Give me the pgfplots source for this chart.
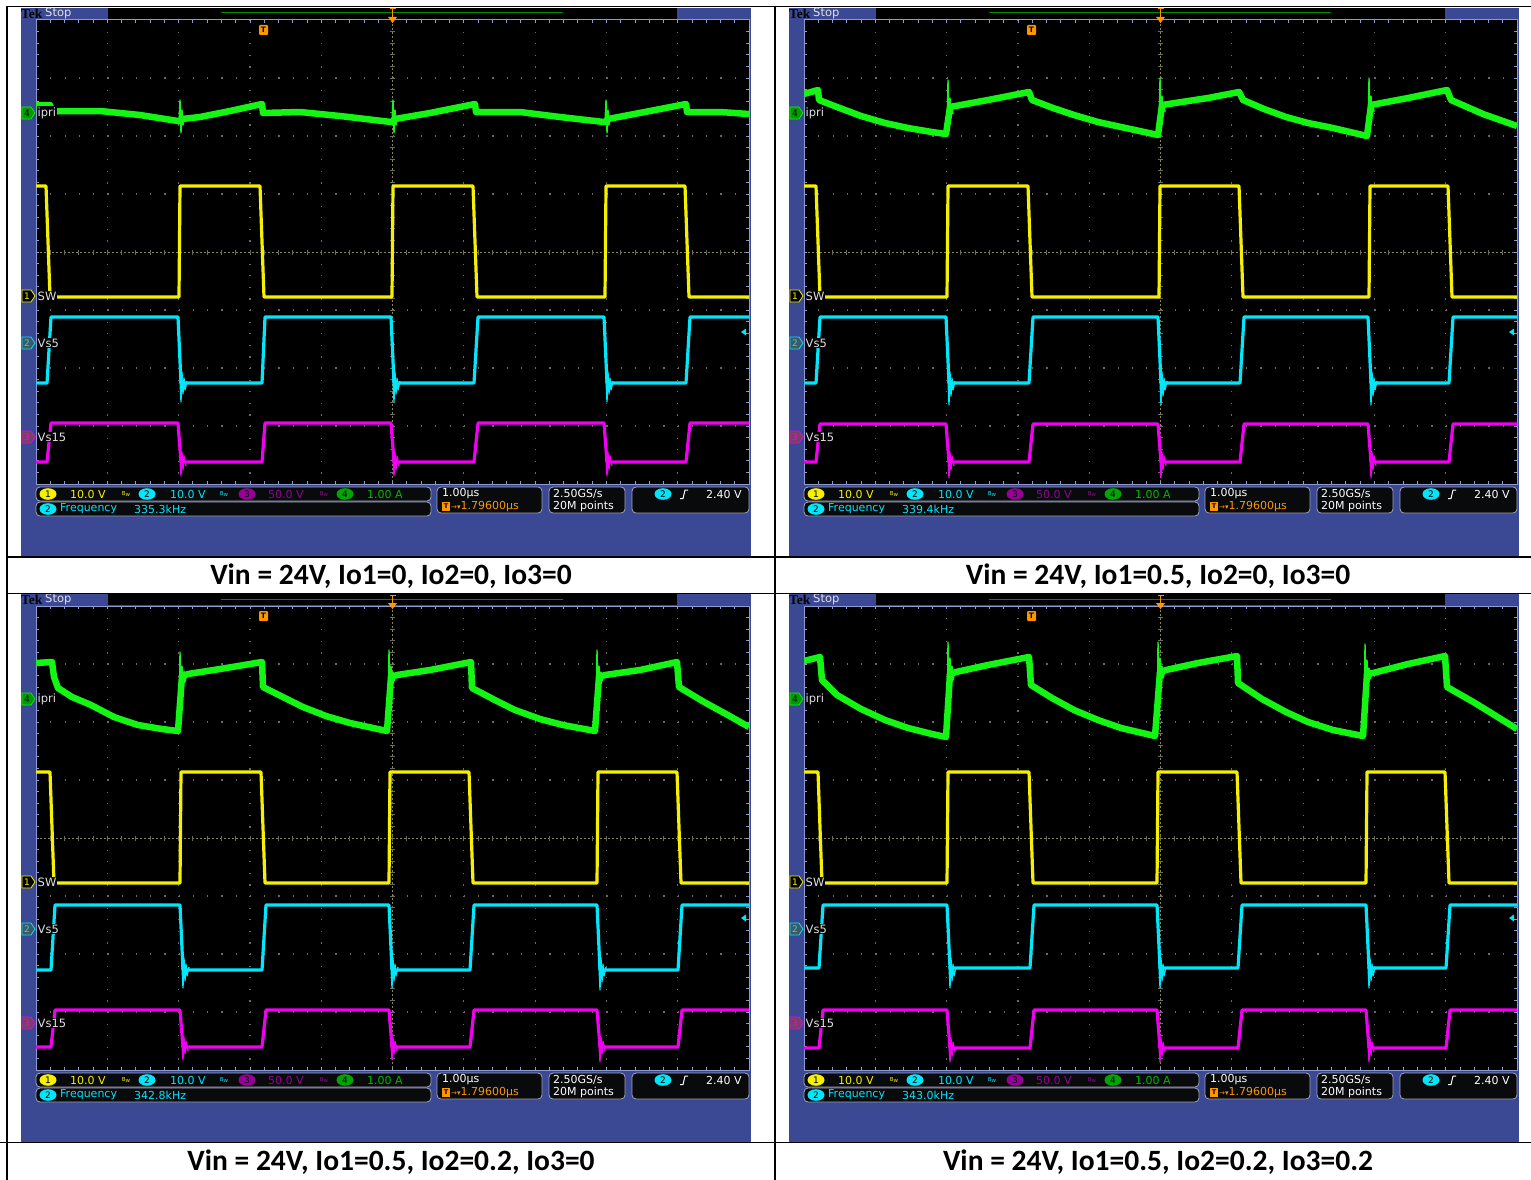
\documentclass[border=0pt]{standalone}
\usepackage{pgfplots}
\pgfplotsset{compat=1.18}
\usepackage{fontspec}
\setmainfont{Carlito}
\newfontfamily\scopefont{DejaVu Sans}
\newfontfamily\tekfont{Liberation Serif}
\definecolor{tekblue}{RGB}{59,73,148}
\definecolor{trgreen}{RGB}{20,245,20}
\definecolor{tryellow}{RGB}{245,240,0}
\definecolor{trcyan}{RGB}{0,230,250}
\definecolor{trmag}{RGB}{240,0,240}
\definecolor{tkorange}{RGB}{255,150,0}
\definecolor{gridc}{RGB}{105,105,105}
\definecolor{bordc}{RGB}{140,155,210}
\definecolor{boxfill}{RGB}{8,10,12}
\definecolor{boxdraw}{RGB}{160,165,190}
\definecolor{lblc}{RGB}{225,225,225}
\definecolor{magtxt}{RGB}{150,0,150}
\definecolor{grntxt}{RGB}{0,185,0}
\pgfplotsset{scopeax/.style={width=713pt,height=464pt,scale only axis,xmin=36,xmax=749,ymin=20,ymax=484,y dir=reverse,hide axis,clip=true,unbounded coords=jump,
  every axis plot/.append style={no markers, line join=round}},
  gr/.style={trgreen, line width=6.5pt},
  grs/.style={trgreen, line width=1.4pt},
  ye/.style={tryellow, line width=3.2pt},
  cy/.style={trcyan, line width=3.2pt},
  cys/.style={trcyan, line width=1.3pt},
  mg/.style={trmag, line width=3.2pt},
  mgs/.style={trmag, line width=1.3pt}}
\tikzset{sf/.style={font=\scopefont\fontsize{11}{12}\selectfont, inner sep=0pt, anchor=west}}
\newcommand{\scopebg}[3]{%
\begin{scope}[shift={(#1,-#2)}]
\fill[tekblue] (21,-8) rectangle (751,-556);
\fill[black] (108,-8) rectangle (677,-19);
\draw[green!55!black, line width=1pt] (221,-13) -- (563,-13);
\node[anchor=west, inner sep=0pt, font=\tekfont\bfseries\fontsize{13.5}{14}\selectfont, text=black] at (21,-14) {Tek};
\node[anchor=west, inner sep=0pt, font=\scopefont\fontsize{11.5}{12}\selectfont, text=lblc] at (45,-13.5) {Stop};
\fill[black] (36,-20) rectangle (749,-484);
\foreach \k in {1,2,3,4,6,7,8,9} \draw[gridc, line width=1.2pt, dash pattern=on 1.2pt off 10.4pt] ({36+71.3*\k},-20) -- ({36+71.3*\k},-484);
\foreach \k in {1,2,3,5,6,7} \draw[gridc, line width=1.2pt, dash pattern=on 1.2pt off 13.06pt] (36,{-20-58*\k}) -- (749,{-20-58*\k});
\draw[gridc!80!yellow, line width=0.8pt, dash pattern=on 2pt off 2pt] (392.5,-20) -- (392.5,-484);
\draw[gridc!80!yellow, line width=0.8pt, dash pattern=on 2pt off 2pt] (36,-252) -- (749,-252);
\foreach \j in {1,...,39} \draw[gridc, line width=0.8pt] (390,{-20-11.6*\j}) -- (395,{-20-11.6*\j});
\foreach \j in {1,...,49} \draw[gridc, line width=0.8pt] ({36+14.26*\j},-249.5) -- ({36+14.26*\j},-254.5);
\foreach \j in {1,...,49} {\draw[bordc, line width=0.8pt] ({36+14.26*\j},-20) -- ++(0,-3); \draw[bordc, line width=0.8pt] ({36+14.26*\j},-484) -- ++(0,3);}
\foreach \j in {1,...,39} {\draw[bordc, line width=0.8pt] (36,{-20-11.6*\j}) -- ++(3,0); \draw[bordc, line width=0.8pt] (749,{-20-11.6*\j}) -- ++(-3,0);}
\draw[bordc, line width=1pt] (36,-20) rectangle (749,-484);
% status bar
\draw[boxdraw, fill=boxfill, line width=0.8pt, rounded corners=4pt] (36,-487) rectangle (431,-501);
\draw[boxdraw, fill=boxfill, line width=0.8pt, rounded corners=4pt] (36,-502) rectangle (431,-516);
\draw[boxdraw, fill=boxfill, line width=0.8pt, rounded corners=4pt] (437,-487) rectangle (542,-513);
\draw[boxdraw, fill=boxfill, line width=0.8pt, rounded corners=4pt] (549,-487) rectangle (625,-513);
\draw[boxdraw, fill=boxfill, line width=0.8pt, rounded corners=4pt] (632,-487) rectangle (749,-513);
\fill[tryellow] (48,-494) ellipse (8.5 and 5.8); \node[font=\scopefont\fontsize{9}{9}\selectfont, inner sep=0pt] at (48,-494) {1};
\node[sf, text=tryellow] at (70,-494) {10.0 V};
\node[font=\scopefont\fontsize{5.5}{5}\selectfont, inner sep=0pt, text=tryellow] at (126,-494) {B\raisebox{-1pt}{w}};
\fill[trcyan] (147,-494) ellipse (8.5 and 5.8); \node[font=\scopefont\fontsize{9}{9}\selectfont, inner sep=0pt] at (147,-494) {2};
\node[sf, text=trcyan] at (170,-494) {10.0 V};
\node[font=\scopefont\fontsize{5.5}{5}\selectfont, inner sep=0pt, text=trcyan] at (224,-494) {B\raisebox{-1pt}{w}};
\fill[magtxt] (247,-494) ellipse (8.5 and 5.8); \node[font=\scopefont\fontsize{9}{9}\selectfont, inner sep=0pt] at (247,-494) {3};
\node[sf, text=magtxt] at (268,-494) {50.0 V};
\node[font=\scopefont\fontsize{5.5}{5}\selectfont, inner sep=0pt, text=magtxt] at (324,-494) {B\raisebox{-1pt}{w}};
\fill[green!65!black] (345,-494) ellipse (8.5 and 5.8); \node[font=\scopefont\fontsize{9}{9}\selectfont, inner sep=0pt] at (345,-494) {4};
\node[sf, text=grntxt] at (367,-494) {1.00 A};
\fill[trcyan] (48,-509) ellipse (8.5 and 5.8); \node[font=\scopefont\fontsize{9}{9}\selectfont, inner sep=0pt] at (48,-509) {2};
\node[sf, text=trcyan] at (60,-509) {Frequency};
\node[sf, text=trcyan] at (134,-509) {#3};
\node[sf, text=white] at (442,-493.5) {1.00µs};
\fill[tkorange] (442,-502) rectangle (450,-510.5);
\node[font=\scopefont\bfseries\fontsize{6.5}{6}\selectfont, inner sep=0pt] at (446,-506.3) {T};
\node[sf, text=tkorange] at (451,-506.5) {\fontsize{7}{7}\selectfont→▾\fontsize{11}{12}\selectfont1.79600µs};
\node[sf, text=white] at (553,-493.5) {2.50GS/s};
\node[sf, text=white] at (553,-506.5) {20M points};
\fill[trcyan] (663,-494) ellipse (8.5 and 5.8); \node[font=\scopefont\fontsize{9}{9}\selectfont, inner sep=0pt] at (663,-494) {2};
\draw[white, line width=1pt] (680,-498.5) -- (683,-498.5) .. controls (684,-494) .. (685,-490) -- (688,-490);
\node[sf, text=white] at (706,-494) {2.40 V};
\end{scope}}
\newcommand{\scopefg}[2]{%
\begin{scope}[shift={(#1,-#2)}]
\filldraw[fill=green!60!black, draw=trgreen, line width=0.6pt] (22,-107) -- (31,-107) -- (35,-113) -- (31,-119) -- (22,-119) -- cycle;
\node[font=\scopefont\fontsize{9}{9}\selectfont, text=black, inner sep=0pt] at (27,-113) {4};
\node[anchor=west, fill=black, inner sep=1pt, text=lblc, font=\scopefont\fontsize{11.5}{12}\selectfont] at (36.5,-113) {ipri};
\filldraw[fill=black, draw=tryellow, line width=0.8pt] (22,-290) -- (31,-290) -- (35,-296) -- (31,-302) -- (22,-302) -- cycle;
\node[font=\scopefont\fontsize{9}{9}\selectfont, text=tryellow, inner sep=0pt] at (27,-296) {1};
\node[anchor=west, fill=black, inner sep=1pt, text=lblc, font=\scopefont\fontsize{11.5}{12}\selectfont] at (36.5,-296) {SW};
\filldraw[fill=cyan!30!black, draw=trcyan, line width=0.8pt] (22,-337) -- (31,-337) -- (35,-343) -- (31,-349) -- (22,-349) -- cycle;
\node[font=\scopefont\fontsize{9}{9}\selectfont, text=trcyan, inner sep=0pt] at (27,-343) {2};
\node[anchor=west, fill=black, inner sep=1pt, text=lblc, font=\scopefont\fontsize{11.5}{12}\selectfont] at (36.5,-343) {Vs5};
\filldraw[fill=magenta!35!black, draw=trmag, line width=0.8pt] (22,-431) -- (31,-431) -- (35,-437) -- (31,-443) -- (22,-443) -- cycle;
\node[font=\scopefont\fontsize{9}{9}\selectfont, text=trmag, inner sep=0pt] at (27,-437) {3};
\node[anchor=west, fill=black, inner sep=1pt, text=lblc, font=\scopefont\fontsize{11.5}{12}\selectfont] at (36.5,-437) {Vs15};
\fill[trcyan] (741,-332) -- (746,-328.5) -- (746,-335.5) -- cycle;
\fill[tkorange, rounded corners=1pt] (259,-25) rectangle (268,-35);
\node[font=\scopefont\bfseries\fontsize{7.5}{7}\selectfont, inner sep=0pt] at (263.5,-30) {T};
\draw[tkorange, line width=1.5pt] (392.5,-9) -- (392.5,-18);
\draw[tkorange, line width=1pt] (389.5,-9) -- (395.5,-9);
\fill[tkorange] (388,-17) -- (397,-17) -- (392.5,-23) -- cycle;
\end{scope}}
\begin{document}
\begin{tikzpicture}[x=1pt,y=1pt]
\path[use as bounding box] (0,0) rectangle (1531,-1180);
\fill[white] (0,0) rectangle (1531,-1180);
\scopebg{0}{0}{335.3kHz}
\scopebg{768}{0}{339.4kHz}
\scopebg{0}{586}{342.8kHz}
\scopebg{768}{586}{343.0kHz}
% ---------------- top-left
\begin{axis}[scopeax, at={(392.5pt,-252pt)}, anchor=center]
\addplot[gr] coordinates {(36,105) (50,105) (52,112) (60,111) (100,111) (140,115) (178,121) (180,121) (182,119) (200,117) (230,111) (262,104) (263,113) (300,112) (340,116) (391,122) (393,121) (395,119) (430,113) (475,104) (476,112) (520,112) (560,117) (604,122) (606,121) (608,119) (650,111) (686,104) (687,112) (720,112) (749,114)};
\addplot[grs] coordinates {(179,121)(180,100)(181,133)(182,110)(183,125)(184,117) (190,nan) (392,122)(393,100)(394,133)(395,110)(396,125)(397,117) (400,nan) (605,122)(606,100)(607,133)(608,110)(609,125)(610,117)};
\addplot[ye] coordinates {(36,186) (46,186) (50,297) (179,297) (180,186) (260,186) (264,297) (392,297) (393,186) (473,186) (477,297) (605,297) (606,186) (685,186) (689,297) (749,297)};
\addplot[cy] coordinates {(36,383) (47,383) (51,317) (178,317) (181,383) (262,383) (265,317) (391,317) (394,383) (474,383) (478,317) (604,317) (607,383) (686,383) (690,317) (749,317)};
\addplot[cys] coordinates {(180,380)(181,402)(182,372)(183,394)(184,378)(185,390)(187,381) (190,nan) (393,380)(394,402)(395,372)(396,394)(397,378)(398,390)(400,381) (405,nan) (606,380)(607,402)(608,372)(609,394)(610,378)(611,390)(613,381)};
\addplot[mg] coordinates {(36,462) (47,462) (51,423) (178,423) (181,462) (262,462) (265,423) (391,423) (394,462) (474,462) (478,423) (604,423) (607,462) (686,462) (690,423) (749,423)};
\addplot[mgs] coordinates {(180,460)(181,476)(182,452)(183,470)(184,456)(186,466) (190,nan) (393,460)(394,476)(395,452)(396,470)(397,456)(399,466) (405,nan) (606,460)(607,476)(608,452)(609,470)(610,456)(612,466)};
\end{axis}
% ---------------- top-right
\begin{axis}[scopeax, at={(1160.5pt,-252pt)}, anchor=center]
\addplot[gr] coordinates {(36,94) (50,90) (51,100) (69,107) (93,116) (117,123) (140,128) (164,132) (178,134) (182,107) (220,100) (261,92) (264,100) (285,108) (306,115) (330,122) (353,127) (390,135) (394,105) (440,98) (471,92) (475,100) (496,109) (518,117) (540,123) (565,128) (599,136) (603,105) (640,98) (679,90) (683,100) (715,114) (749,126)};
\addplot[grs] coordinates {(179,134)(180,80)(181,127)(182,98)(183,118)(184,104)(185,114) (190,nan) (391,135)(392,78)(393,128)(394,96)(395,115)(396,103)(397,112) (400,nan) (600,136)(601,78)(602,128)(603,96)(604,115)(605,103)(606,112)};
\addplot[ye] coordinates {(36,186) (48,186) (52,297) (179,297) (180,186) (260,186) (264,297) (391,297) (392,186) (471,186) (475,297) (601,297) (602,186) (680,186) (684,297) (749,297)};
\addplot[cy] coordinates {(36,383) (48,383) (52,317) (178,317) (181,383) (261,383) (265,317) (390,317) (393,383) (472,383) (476,317) (600,317) (603,383) (681,383) (685,317) (749,317)};
\addplot[cys] coordinates {(180,380)(181,405)(182,372)(183,396)(184,378)(185,390)(187,381) (190,nan) (392,380)(393,405)(394,372)(395,396)(396,378)(397,390)(399,381) (405,nan) (602,380)(603,405)(604,372)(605,396)(606,378)(607,390)(609,381)};
\addplot[mg] coordinates {(36,462) (48,462) (52,424) (178,424) (181,462) (261,462) (265,424) (390,424) (393,462) (472,462) (476,424) (600,424) (603,462) (681,462) (685,424) (749,424)};
\addplot[mgs] coordinates {(180,460)(181,478)(182,452)(183,470)(184,456)(186,466) (190,nan) (392,460)(393,478)(394,452)(395,470)(396,456)(398,466) (405,nan) (602,460)(603,478)(604,452)(605,470)(606,456)(608,466)};
\end{axis}
% ---------------- bottom-left
\begin{axis}[scopeax, at={(392.5pt,-838pt)}, anchor=center]
\addplot[gr] coordinates {(36,77) (52,76) (54,91) (58,102) (72,111) (91,119) (114,131) (138,139) (162,143) (178,145) (182,90) (188,88) (220,83) (262,76) (263,101) (283,111) (303,121) (326,130) (350,137) (387,145) (391,91) (397,89) (430,84) (471,76) (472,102) (493,113) (515,124) (540,133) (563,139) (595,145) (599,91) (605,89) (640,84) (677,76) (679,101) (704,116) (726,128) (749,141)};
\addplot[grs] coordinates {(179,145)(180,66)(181,109)(182,80)(183,100)(184,85)(185,96)(187,88) (190,nan) (388,145)(389,64)(390,108)(391,80)(392,98)(393,86)(394,95)(396,89) (400,nan) (596,145)(597,64)(598,109)(599,80)(600,98)(601,86)(602,95)(604,89)};
\addplot[ye] coordinates {(36,186) (50,186) (54,297) (180,297) (181,186) (261,186) (265,297) (389,297) (390,186) (469,186) (473,297) (597,297) (598,186) (677,186) (681,297) (749,297)};
\addplot[cy] coordinates {(36,384) (51,384) (55,319) (180,319) (183,384) (262,384) (266,319) (389,319) (392,384) (470,384) (474,319) (597,319) (600,384) (678,384) (682,319) (749,319)};
\addplot[cys] coordinates {(182,380)(183,402)(184,372)(185,395)(186,378)(187,390)(189,381) (195,nan) (391,380)(392,402)(393,372)(394,395)(395,378)(396,390)(398,381) (405,nan) (599,380)(600,404)(601,372)(602,396)(603,378)(604,390)(606,381)};
\addplot[mg] coordinates {(36,461) (51,461) (55,424) (180,424) (183,461) (262,461) (266,424) (389,424) (392,461) (470,461) (474,424) (597,424) (600,461) (678,461) (682,424) (749,424)};
\addplot[mgs] coordinates {(182,459)(183,474)(184,451)(185,468)(186,455)(188,465) (195,nan) (391,459)(392,474)(393,451)(394,468)(395,455)(397,465) (405,nan) (599,459)(600,476)(601,451)(602,468)(603,455)(605,465)};
\end{axis}
% ---------------- bottom-right
\begin{axis}[scopeax, at={(1160.5pt,-838pt)}, anchor=center]
\addplot[gr] coordinates {(36,75) (52,71) (54,94) (60,100) (69,109) (93,123) (117,134) (140,142) (164,148) (178,151) (182,88) (188,86) (220,79) (261,71) (263,99) (284,112) (306,124) (330,134) (353,142) (387,150) (392,86) (398,84) (430,77) (469,70) (470,97) (494,113) (518,126) (540,136) (565,144) (595,150) (599,88) (605,87) (640,78) (677,70) (679,101) (707,117) (749,143)};
\addplot[grs] coordinates {(179,151)(180,56)(181,106)(182,72)(183,98)(184,80)(185,94)(187,86) (190,nan) (389,150)(390,56)(391,104)(392,72)(393,96)(394,80)(395,92)(397,85) (400,nan) (596,150)(597,58)(598,106)(599,74)(600,98)(601,82)(602,93)(604,87)};
\addplot[ye] coordinates {(36,186) (50,186) (54,297) (179,297) (180,186) (261,186) (265,297) (389,297) (390,186) (469,186) (473,297) (598,297) (599,186) (677,186) (681,297) (749,297)};
\addplot[cy] coordinates {(36,382) (51,382) (55,319) (179,319) (182,382) (262,382) (266,319) (389,319) (392,382) (470,382) (474,319) (598,319) (601,382) (678,382) (682,319) (749,319)};
\addplot[cys] coordinates {(181,380)(182,402)(183,372)(184,395)(185,378)(186,390)(188,381) (195,nan) (391,380)(392,402)(393,372)(394,395)(395,378)(396,390)(398,381) (405,nan) (600,380)(601,402)(602,372)(603,395)(604,378)(605,390)(607,381)};
\addplot[mg] coordinates {(36,462) (51,462) (55,424) (179,424) (182,462) (262,462) (266,424) (389,424) (392,462) (470,462) (474,424) (598,424) (601,462) (678,462) (682,424) (749,424)};
\addplot[mgs] coordinates {(181,460)(182,476)(183,452)(184,470)(185,456)(187,466) (195,nan) (391,460)(392,476)(393,452)(394,470)(395,456)(397,466) (405,nan) (600,460)(601,476)(602,452)(603,470)(604,456)(606,466)};
\end{axis}
\scopefg{0}{0}
\scopefg{768}{0}
\scopefg{0}{586}
\scopefg{768}{586}
% table
\draw[line width=1.6pt] (7,-6.5) -- (1531,-6.5);
\draw[line width=1.6pt] (7,-557) -- (1531,-557);
\draw[line width=1.6pt] (7,-593.5) -- (1531,-593.5);
\draw[line width=1.6pt] (0,-1142.5) -- (1531,-1142.5);
\draw[line width=1.6pt] (7,-6.5) -- (7,-1180);
\draw[line width=1.6pt] (775,-6.5) -- (775,-1180);
\node[font=\bfseries\fontsize{29.5}{32}\selectfont, inner sep=0pt] at (391,-576) {Vin = 24V, Io1=0, Io2=0, Io3=0};
\node[font=\bfseries\fontsize{29.5}{32}\selectfont, inner sep=0pt] at (1158,-576) {Vin = 24V, Io1=0.5, Io2=0, Io3=0};
\node[font=\bfseries\fontsize{29.5}{32}\selectfont, inner sep=0pt] at (391,-1162) {Vin = 24V, Io1=0.5, Io2=0.2, Io3=0};
\node[font=\bfseries\fontsize{29.5}{32}\selectfont, inner sep=0pt] at (1158,-1162) {Vin = 24V, Io1=0.5, Io2=0.2, Io3=0.2};
\end{tikzpicture}
\end{document}
